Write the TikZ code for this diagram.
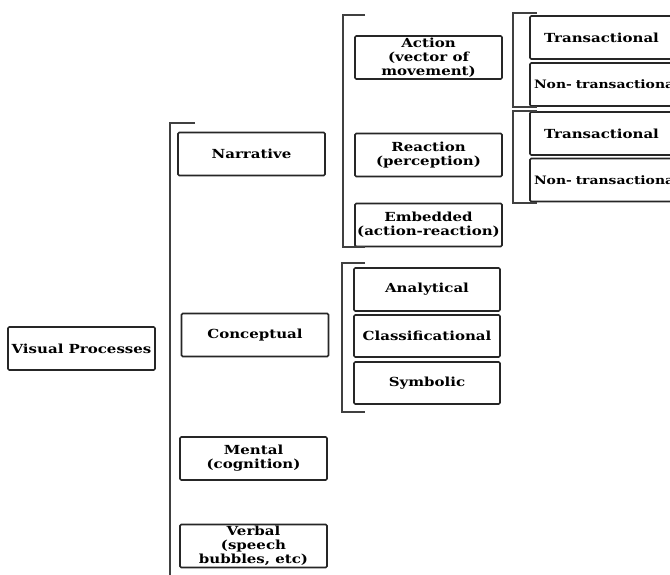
\documentclass[tikz,border=0pt]{standalone}
\usepackage{fontspec}
\setmainfont{DejaVu Serif}[FakeStretch=1.2]
\begin{document}
\begin{tikzpicture}[x=1pt,y=-1pt,
  box/.style={draw=black!85, line width=1.6pt, rounded corners=1.2pt, inner sep=0pt,
     align=center, font=\bfseries\fontsize{12.5}{14}\selectfont},
  wbox/.style={box, minimum width=147pt, minimum height=43pt},
  tbox/.style={box, inner xsep=4pt, text width=135pt, minimum height=43pt},
  small/.style={font=\bfseries\fontsize{11.6}{14}\selectfont},
  brk/.style={draw=black!75, line width=1.2pt}]
\useasboundingbox (0,0) rectangle (670,575);
\clip (0,0) rectangle (670,575);
% main level
\node[wbox] (vp) at (81.5,348.5) {Visual Processes};
\node[wbox] (narr) at (251.5,154) {Narrative};
\node[wbox] (conc) at (255,335) {Conceptual};
\node[wbox] (ment) at (253.5,458.5) {Mental\\(cognition)};
\node[wbox] (verb) at (253.5,546) {Verbal\\(speech\\bubbles, etc)};
% narrative subtypes
\node[wbox] (act) at (428.5,57.5) {Action\\(vector of\\movement)};
\node[wbox] (react) at (428.5,155) {Reaction\\(perception)};
\node[wbox] (emb) at (428.5,225) {Embedded\\(action-reaction)};
% conceptual subtypes
\node[wbox, minimum width=146pt] (ana) at (427,289.5) {Analytical};
\node[wbox, minimum width=146pt, minimum height=42pt] (cls) at (427,336) {Classificational};
\node[wbox, minimum width=146pt, minimum height=42pt] (sym) at (427,383) {Symbolic};
% third level
\node[tbox] (t1) at (601.5,37.5) {Transactional};
\node[tbox, small] (n1) at (601.5,84.5) {\makebox[135pt][l]{Non- transactional}};
\node[tbox] (t2) at (601.5,133.5) {Transactional};
\node[tbox, small] (n2) at (601.5,180) {\makebox[135pt][l]{Non- transactional}};
% brackets
\draw[brk] (195,123) -- (170,123) -- (170,580);
\draw[brk] (365,15) -- (343,15) -- (343,247) -- (365,247);
\draw[brk] (537,13) -- (513,13) -- (513,107) -- (537,107);
\draw[brk] (537,111) -- (513,111) -- (513,203) -- (537,203);
\draw[brk] (365,263) -- (342,263) -- (342,412) -- (365,412);
\end{tikzpicture}
\end{document}
